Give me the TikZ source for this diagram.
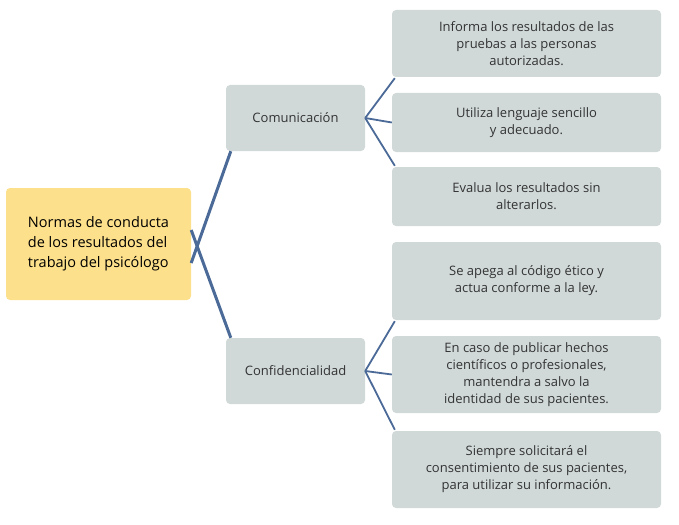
\documentclass[tikz,border=0pt]{standalone}
\usepackage{fontspec}
\setmainfont{Open Sans}
\begin{document}
\begin{tikzpicture}[x=1pt,y=-1pt,
  box/.style={fill=boxgray,rounded corners=4pt,inner sep=0pt,align=center,font=\fontsize{13}{17}\selectfont,text=txt},
  thick line/.style={draw=lineblue,line width=3pt},
  thin line/.style={draw=lineblue,line width=1.8pt}]
\definecolor{boxgray}{HTML}{D0D9D8}
\definecolor{rootyel}{HTML}{FDE08C}
\definecolor{lineblue}{HTML}{4B6A97}
\definecolor{txt}{HTML}{333333}
\useasboundingbox (0,0) rectangle (679,524);
\node[box,fill=rootyel,minimum width=185pt,minimum height=112pt,align=left,font=\fontsize{14.5}{20}\selectfont,text=black] (root) at (98.5,244) {Normas de conducta\\de los resultados del\\trabajo del psicólogo};
\node[box,minimum width=139pt,minimum height=66pt] (com) at (295.5,118) {Comunicación};
\node[box,minimum width=139pt,minimum height=66pt] (conf) at (295.5,371) {Confidencialidad};
\node[box,minimum width=269pt,minimum height=67pt] (l1) at (526.5,43.5) {Informa los resultados de las\\pruebas a las personas\\autorizadas.};
\node[box,minimum width=269pt,minimum height=59pt] (l2) at (526.5,122.5) {Utiliza lenguaje sencillo\\y adecuado.};
\node[box,minimum width=269pt,minimum height=59pt] (l3) at (526.5,196.5) {Evalua los resultados sin\\alterarlos.};
\node[box,minimum width=269pt,minimum height=78pt] (l4) at (526.5,281) {Se apega al código ético y\\actua conforme a la ley.};
\node[box,minimum width=269pt,minimum height=77pt] (l5) at (526.5,374.5) {En caso de publicar hechos\\científicos o profesionales,\\mantendra a salvo la\\identidad de sus pacientes.};
\node[box,minimum width=269pt,minimum height=77pt] (l6) at (526.5,469.5) {Siempre solicitará el\\consentimiento de sus pacientes,\\para utilizar su información.};
\draw[thick line] ([yshift=-19pt]root.east) -- ([xshift=5pt]com.south west);
\draw[thick line] ([yshift=14pt]root.east) -- ([xshift=5pt]conf.north west);
\draw[thin line] (com.east) -- ([xshift=3pt,yshift=-1pt]l1.south west);
\draw[thin line] (com.east) -- (l2.west);
\draw[thin line] (com.east) -- ([xshift=3pt,yshift=1pt]l3.north west);
\draw[thin line] (conf.east) -- ([xshift=3pt,yshift=-1pt]l4.south west);
\draw[thin line] (conf.east) -- (l5.west);
\draw[thin line] (conf.east) -- ([xshift=3pt,yshift=1pt]l6.north west);
\end{tikzpicture}
\end{document}
